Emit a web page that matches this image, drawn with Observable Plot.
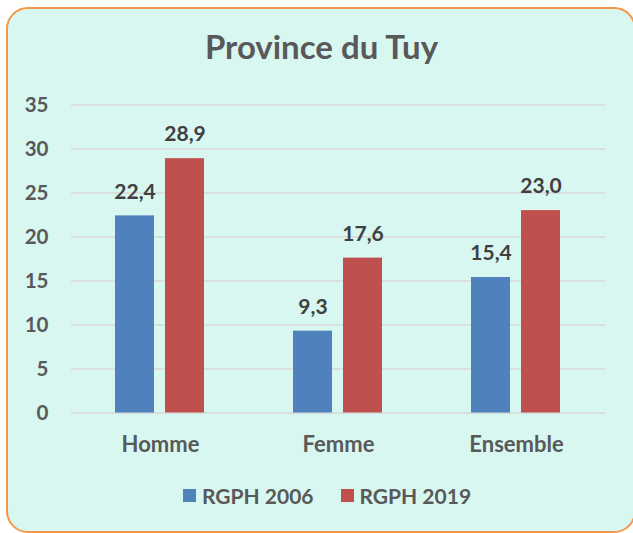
<!DOCTYPE html>
<html>
<head>
<meta charset="utf-8">
<script src="https://cdn.jsdelivr.net/npm/d3@7"></script>
<script src="https://cdn.jsdelivr.net/npm/@observablehq/plot@0.6"></script>
<style>
  html, body { margin: 0; padding: 0; background: #ffffff; }
  #wrap { position: relative; width: 633px; height: 533px; overflow: hidden; font-family: Lato, "Open Sans", sans-serif; }
  #frame { position: absolute; left: 6px; top: 7px; width: 630px; height: 526px; box-sizing: border-box;
           border: 2px solid #f79646; border-radius: 22px; background: #d8f7f0; }
  #title { position: absolute; left: 0; top: 30px; width: 643px; text-align: center; font-size: 33px;
           line-height: 33px; font-weight: 700; color: #595959; }
  #chart { position: absolute; left: 0; top: 80px; }
  #chart g[aria-label^="fx-axis"] { font-size: 22px; }
  #chart g[aria-label^="y-axis"] { font-size: 20.5px; }
  #legend { position: absolute; left: 183px; top: 485px; display: flex; align-items: center;
            font-size: 21px; line-height: 21px; font-weight: 700; color: #595959; }
  .item { display: flex; align-items: center; margin-right: 27px; }
  .sw { width: 13px; height: 13px; margin-right: 6px; }
</style>
</head>
<body>
<div id="wrap">
  <div id="frame"></div>
  <div id="title">Province du Tuy</div>
  <div id="chart"></div>
  <div id="legend"></div>
</div>
<script>
const categories = ["Homme", "Femme", "Ensemble"];
const series = ["RGPH 2006", "RGPH 2019"];
const values2006 = [22.4, 9.3, 15.4];
const values2019 = [28.9, 17.6, 23.0];
const yTicks = [0, 5, 10, 15, 20, 25, 30, 35];
const colors = ["#4f81bd", "#c0504d"];

const rows = [];
categories.forEach((c, i) => {
  rows.push({category: c, series: series[0], value: values2006[i]});
  rows.push({category: c, series: series[1], value: values2019[i]});
});
const fmt = v => d3.format(".1f")(v).replace(".", ",");

const chart = Plot.plot({
  width: 633,
  height: 390,
  marginTop: 24.5,
  marginBottom: 57.5,
  marginLeft: 70,
  marginRight: 27,
  style: {background: "transparent", fontFamily: "Lato, 'Open Sans', sans-serif", fontSize: "21px", fontWeight: 700, color: "#595959"},
  facet: {data: rows, x: "category", marginBottom: 57.5},
  fx: {domain: categories, padding: 0, axis: "bottom", label: null, tickSize: 0, tickPadding: 23},
  x: {domain: series, paddingInner: 0.2157, paddingOuter: 0.86, axis: null},
  y: {domain: [0, 35], ticks: yTicks, tickSize: 0, tickPadding: 23, label: null, grid: false},
  color: {domain: series, range: colors},
  marks: [
    Plot.ruleY(yTicks, {stroke: "#d9d9d9", strokeWidth: 1.6}),
    Plot.barY(rows, {x: "series", y: "value", fill: "series"}),
    Plot.text(rows, {x: "series", y: "value", text: d => fmt(d.value), dy: -24, fill: "#404040", fontSize: 21, fontWeight: 700})
  ]
});
document.getElementById("chart").appendChild(chart);

const legend = document.getElementById("legend");
series.forEach((s, i) => {
  const item = document.createElement("div");
  item.className = "item";
  const sw = document.createElement("span");
  sw.className = "sw";
  sw.style.background = colors[i];
  const t = document.createElement("span");
  t.textContent = s;
  item.appendChild(sw);
  item.appendChild(t);
  legend.appendChild(item);
});
</script>
</body>
</html>
